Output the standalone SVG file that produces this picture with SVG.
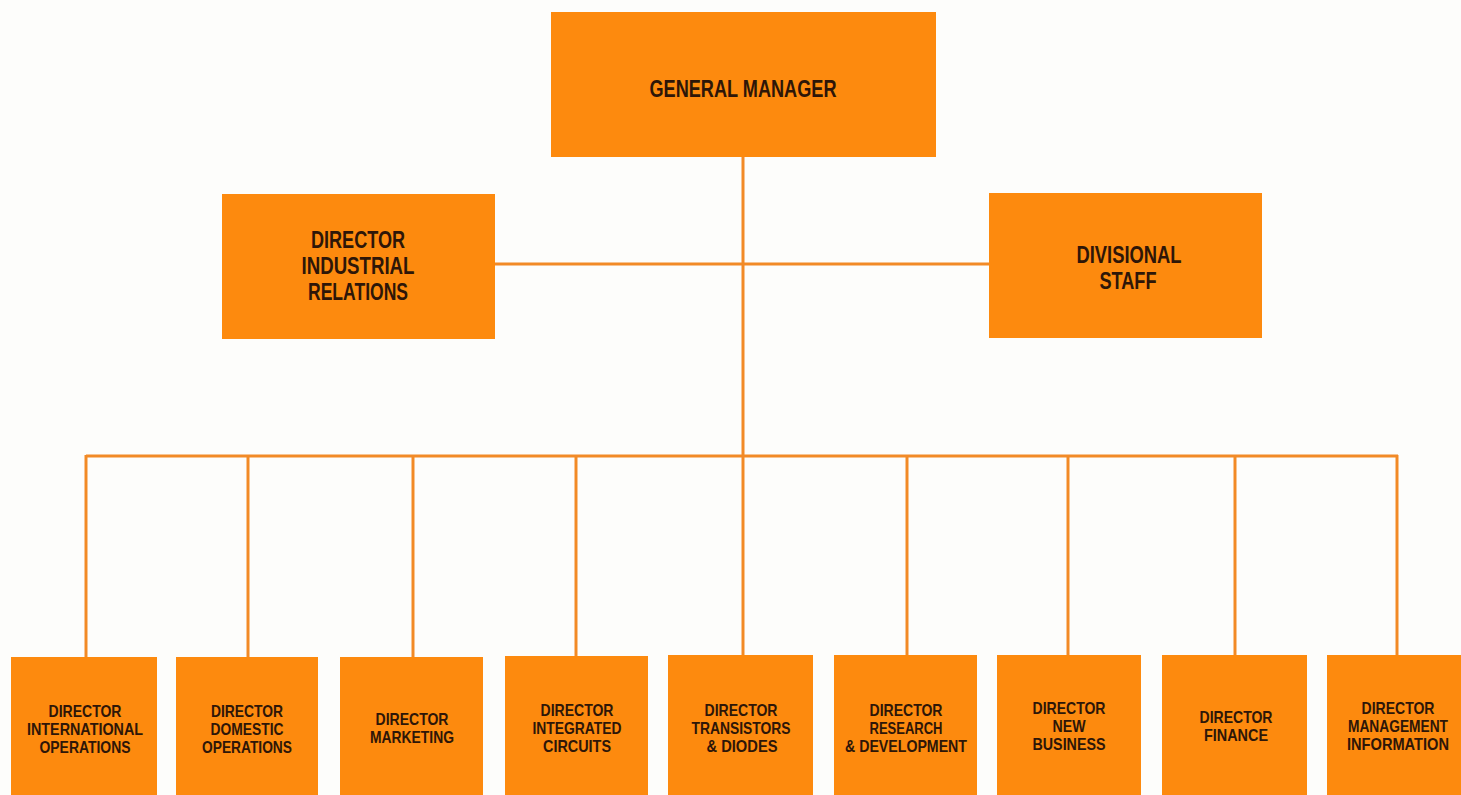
<svg xmlns="http://www.w3.org/2000/svg" width="1461" height="795" viewBox="0 0 1461 795">
<style>
.box{fill:#FD8A0E}
.t{font-family:"Liberation Sans","DejaVu Sans",sans-serif;font-weight:bold;fill:#2E1608;text-anchor:middle}
.big{font-size:24px}
.sm{font-size:16.5px}
.ln{stroke:#F28A26;stroke-width:3;fill:none}
</style>
<rect width="1461" height="795" fill="#FDFDFB"/>
<g id="connectors">
<line class="ln" x1="743" y1="157" x2="743" y2="456"/>
<line class="ln" x1="495" y1="264" x2="989" y2="264"/>
<line class="ln" x1="86" y1="456" x2="1398" y2="456"/>
<line class="ln" x1="86" y1="455" x2="86" y2="657"/>
<line class="ln" x1="248" y1="455" x2="248" y2="657"/>
<line class="ln" x1="413" y1="455" x2="413" y2="657"/>
<line class="ln" x1="576" y1="455" x2="576" y2="657"/>
<line class="ln" x1="743" y1="455" x2="743" y2="657"/>
<line class="ln" x1="907" y1="455" x2="907" y2="657"/>
<line class="ln" x1="1068" y1="455" x2="1068" y2="657"/>
<line class="ln" x1="1235" y1="455" x2="1235" y2="657"/>
<line class="ln" x1="1397" y1="455" x2="1397" y2="657"/>
</g>
<g id="gm">
<rect class="box" x="551" y="12" width="385" height="145"/>
<text class="t big" x="743" y="97" textLength="187" lengthAdjust="spacingAndGlyphs">GENERAL MANAGER</text>
</g>
<g id="dir-ir">
<rect class="box" x="222" y="194" width="273" height="145"/>
<text class="t big" x="358" y="248" textLength="94" lengthAdjust="spacingAndGlyphs">DIRECTOR</text>
<text class="t big" x="358" y="274" textLength="113" lengthAdjust="spacingAndGlyphs">INDUSTRIAL</text>
<text class="t big" x="358" y="300" textLength="100" lengthAdjust="spacingAndGlyphs">RELATIONS</text>
</g>
<g id="div-staff">
<rect class="box" x="989" y="193" width="273" height="145"/>
<text class="t big" x="1129" y="263" textLength="105" lengthAdjust="spacingAndGlyphs">DIVISIONAL</text>
<text class="t big" x="1128" y="289" textLength="57" lengthAdjust="spacingAndGlyphs">STAFF</text>
</g>
<g id="d-intl">
<rect class="box" x="11" y="657" width="146" height="140"/>
<text class="t sm" x="85" y="717" textLength="73" lengthAdjust="spacingAndGlyphs">DIRECTOR</text>
<text class="t sm" x="85" y="735" textLength="116" lengthAdjust="spacingAndGlyphs">INTERNATIONAL</text>
<text class="t sm" x="85" y="753" textLength="91" lengthAdjust="spacingAndGlyphs">OPERATIONS</text>
</g>
<g id="d-dom">
<rect class="box" x="176" y="657" width="142" height="140"/>
<text class="t sm" x="247" y="717" textLength="72" lengthAdjust="spacingAndGlyphs">DIRECTOR</text>
<text class="t sm" x="247" y="735" textLength="73" lengthAdjust="spacingAndGlyphs">DOMESTIC</text>
<text class="t sm" x="247" y="753" textLength="90" lengthAdjust="spacingAndGlyphs">OPERATIONS</text>
</g>
<g id="d-mkt">
<rect class="box" x="340" y="657" width="143" height="140"/>
<text class="t sm" x="412" y="725" textLength="73" lengthAdjust="spacingAndGlyphs">DIRECTOR</text>
<text class="t sm" x="412" y="743" textLength="84" lengthAdjust="spacingAndGlyphs">MARKETING</text>
</g>
<g id="d-ic">
<rect class="box" x="505" y="656" width="143" height="141"/>
<text class="t sm" x="577" y="716" textLength="73" lengthAdjust="spacingAndGlyphs">DIRECTOR</text>
<text class="t sm" x="577" y="734" textLength="89" lengthAdjust="spacingAndGlyphs">INTEGRATED</text>
<text class="t sm" x="577" y="752" textLength="68" lengthAdjust="spacingAndGlyphs">CIRCUITS</text>
</g>
<g id="d-td">
<rect class="box" x="668" y="655" width="145" height="142"/>
<text class="t sm" x="741" y="716" textLength="73" lengthAdjust="spacingAndGlyphs">DIRECTOR</text>
<text class="t sm" x="741" y="734" textLength="99" lengthAdjust="spacingAndGlyphs">TRANSISTORS</text>
<text class="t sm" x="742" y="752" textLength="71" lengthAdjust="spacingAndGlyphs">&amp; DIODES</text>
</g>
<g id="d-rd">
<rect class="box" x="834" y="655" width="143" height="142"/>
<text class="t sm" x="906" y="716" textLength="73" lengthAdjust="spacingAndGlyphs">DIRECTOR</text>
<text class="t sm" x="906" y="734" textLength="73" lengthAdjust="spacingAndGlyphs">RESEARCH</text>
<text class="t sm" x="906" y="752" textLength="122" lengthAdjust="spacingAndGlyphs">&amp; DEVELOPMENT</text>
</g>
<g id="d-nb">
<rect class="box" x="997" y="655" width="144" height="142"/>
<text class="t sm" x="1069" y="714" textLength="73" lengthAdjust="spacingAndGlyphs">DIRECTOR</text>
<text class="t sm" x="1069" y="732" textLength="33" lengthAdjust="spacingAndGlyphs">NEW</text>
<text class="t sm" x="1069" y="750" textLength="73" lengthAdjust="spacingAndGlyphs">BUSINESS</text>
</g>
<g id="d-fin">
<rect class="box" x="1162" y="655" width="145" height="142"/>
<text class="t sm" x="1236" y="723" textLength="73" lengthAdjust="spacingAndGlyphs">DIRECTOR</text>
<text class="t sm" x="1236" y="741" textLength="64" lengthAdjust="spacingAndGlyphs">FINANCE</text>
</g>
<g id="d-mi">
<rect class="box" x="1327" y="655" width="134" height="142"/>
<text class="t sm" x="1398" y="714" textLength="73" lengthAdjust="spacingAndGlyphs">DIRECTOR</text>
<text class="t sm" x="1398" y="732" textLength="100" lengthAdjust="spacingAndGlyphs">MANAGEMENT</text>
<text class="t sm" x="1398" y="750" textLength="102" lengthAdjust="spacingAndGlyphs">INFORMATION</text>
</g>
</svg>
